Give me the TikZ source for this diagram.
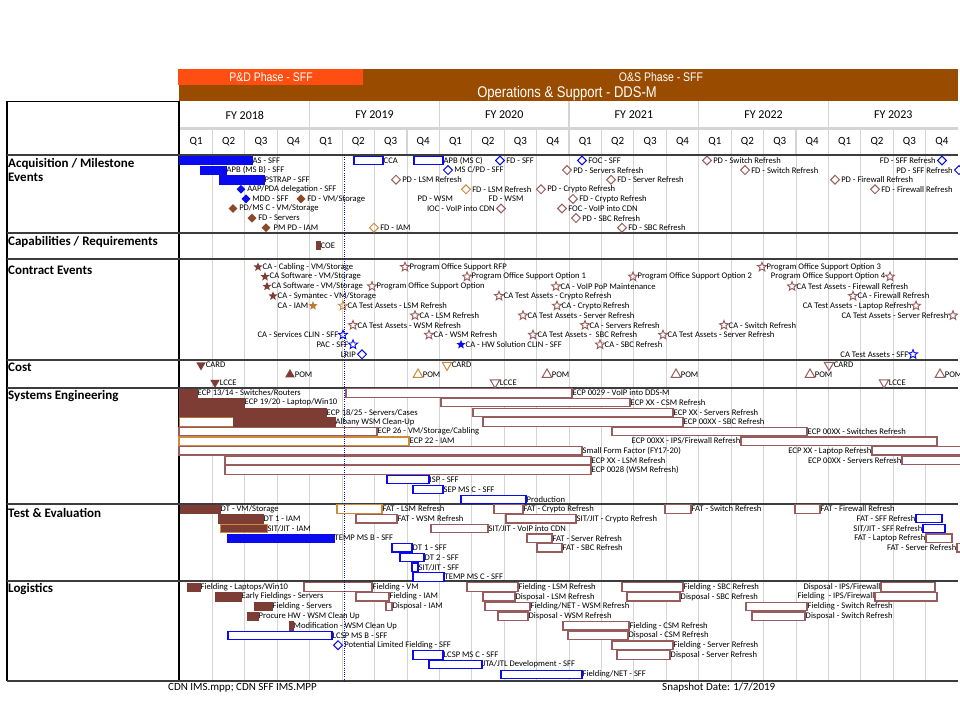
\documentclass[tikz,border=0pt]{standalone}
\usepackage{fontspec}
\setmainfont{Carlito}
\newfontfamily\hdrfont[FakeStretch=0.84]{Liberation Sans}
\usetikzlibrary{shapes.geometric}
\definecolor{cBlue}{RGB}{10,10,240}
\definecolor{cBrn}{RGB}{125,60,52}
\definecolor{cBrnD}{RGB}{140,72,40}
\definecolor{cRose}{RGB}{152,92,92}
\definecolor{cOrg}{RGB}{205,138,58}
\definecolor{cHOr}{RGB}{255,78,18}
\definecolor{cHBr}{RGB}{153,76,0}
\definecolor{cGrid}{RGB}{212,212,212}
\definecolor{cSep}{RGB}{60,60,60}
\newcount\itm
\newcommand\gbx[5]{\global\advance\itm by 1 \edef\nm{b\the\itm}%
  \draw[#1,fill=white] (#2,#4-4.2) rectangle (#3,#4+4.2);%
  \node[lab,anchor=west] (\nm) at (#3,#4) {#5};}
\newcommand\gbxf[5]{\global\advance\itm by 1 \edef\nm{b\the\itm}%
  \draw[#1] (#2,#4-4.2) rectangle (#3,#4+4.2);%
  \node[lab,anchor=west] (\nm) at (#3,#4) {#5};}
\newcommand\gbxl[5]{\global\advance\itm by 1 \edef\nm{b\the\itm}%
  \draw[#1,fill=white] (#2,#4-4.2) rectangle (#3,#4+4.2);%
  \node[lab,anchor=east] (\nm) at (#2,#4) {#5};}
\newcommand\gmk[4]{\global\advance\itm by 1 \edef\nm{m\the\itm}\edef\nt{t\the\itm}%
  \node[#1] (\nm) at (#2,#3) {};%
  \node[lab,anchor=west] (\nt) at (\nm.east) {#4};}
\newcommand\gmkl[4]{\global\advance\itm by 1 \edef\nm{m\the\itm}\edef\nt{t\the\itm}%
  \node[#1] (\nm) at (#2,#3) {};%
  \node[lab,anchor=east] (\nt) at (\nm.west) {#4};}
\newcommand\gtx[3]{\global\advance\itm by 1 \edef\nt{t\the\itm}%
  \node[lab,anchor=west] (\nt) at (#1,#2) {#3};}
\begin{document}
\begin{tikzpicture}[x=1pt,y=-1pt,
  lab/.style={font=\fontsize{8.6}{9}\selectfont, inner sep=0.7pt, outer sep=0pt},
  sec/.style={font=\bfseries\fontsize{13}{13.5}\selectfont, inner sep=0pt, anchor=west, align=left},
  grid/.style={draw=cGrid, line width=0.8pt},
  sepl/.style={draw=cSep, line width=1.8pt},
  bF/.style={fill=cBlue, draw=cBlue, line width=0.6pt},
  bO/.style={draw=cBlue, line width=1.1pt},
  brF/.style={fill=cBrn, draw=cBrn, line width=0.6pt},
  brFo/.style={fill=cBrn, draw=cOrg, line width=0.8pt},
  rO/.style={draw=cRose, line width=1.2pt},
  oO/.style={draw=cOrg, line width=1.2pt},
  mk/.style={inner sep=0pt, outer sep=0.8pt},
  dia/.style={mk, diamond, minimum size=9.5pt},
  st/.style={mk, star, star points=5, star point ratio=2.3, minimum size=9.5pt},
  tu/.style={mk, regular polygon, regular polygon sides=3, minimum size=11pt},
  td/.style={tu, shape border rotate=180},
  dB/.style={dia, fill=cBlue},
  dBo/.style={dia, draw=cBlue, line width=1pt, fill=white},
  dBr/.style={dia, fill=cBrnD},
  dRo/.style={dia, draw=cRose, line width=1pt},
  dOo/.style={dia, draw=cOrg, line width=1pt},
  sBr/.style={st, fill=cBrn},
  sOf/.style={st, fill=cOrg!75!cBrnD},
  sOo/.style={st, draw=cOrg, line width=0.9pt},
  sRo/.style={st, draw=cRose, line width=0.9pt},
  sBo/.style={st, draw=cBlue, line width=0.9pt},
  sBf/.style={st, fill=cBlue},
  tdBr/.style={td, fill=cBrn}, tuBr/.style={tu, fill=cBrn},
  tdOo/.style={td, draw=cOrg, line width=1pt}, tuOo/.style={tu, draw=cOrg, line width=1pt},
  tdRo/.style={td, draw=cRose, line width=1pt}, tuRo/.style={tu, draw=cRose, line width=1pt}]
\useasboundingbox[fill=white] (0,0) rectangle (960,720);
% ---------- header bars
\fill[cHBr] (179,69) rectangle (958,101);
\fill[cHOr] (178,69) rectangle (363,85);
\node[text=white, font=\hdrfont\fontsize{12.5}{13}\selectfont] (pd) at (271,77) {P\&D Phase - SFF};
\node[text=white, font=\hdrfont\fontsize{12.5}{13}\selectfont] (os) at (661,77) {O\&S Phase - SFF};
\node[text=white, font=\hdrfont\fontsize{15.5}{16}\selectfont] (ops) at (567,93) {Operations \& Support - DDS-M};
% ---------- header table
\draw[line width=1pt] (7,101.5) -- (179,101.5);
\draw[draw=cGrid, line width=2.5pt] (179,128.5) -- (958,128.5);
\foreach \i in {1,...,5} \draw[grid, line width=1.2pt] ({180+129.68*\i},101) -- ({180+129.68*\i},127);
\foreach \k in {1,...,23} \draw[grid, line width=1.2pt] ({180+32.42*\k},130) -- ({180+32.42*\k},154);
\foreach \yr [count=\i from 0] in {2018,...,2023}
  \node[font=\fontsize{12}{13}\selectfont] (fy\i) at ({180+129.68*\i+64.84},115) {FY \yr};
\foreach \k in {0,...,23}{
  \pgfmathtruncatemacro\qq{mod(\k,4)+1}
  \node[font=\fontsize{11}{12}\selectfont] (q\k) at ({180+32.42*\k+16.21},141.5) {Q\qq};}
% ---------- body grid
\foreach \k in {1,...,23} \draw[grid] ({180+32.42*\k},155) -- ({180+32.42*\k},681);
\draw[line width=1.3pt] (7,101) -- (7,681);
\draw[line width=1.3pt] (179,101) -- (179,681);
\foreach \yy in {155,233,259,360,388,504,581} \draw[sepl] (7,\yy) -- (958,\yy);
\draw[draw=cSep, line width=2.2pt] (7,681) -- (958,681);
% ---------- section labels
\node[sec, anchor=north west] (acq) at (8,158.5) {Acquisition / Milestone\\Events};
\node[sec] (cap) at (8,241.5) {Capabilities / Requirements};
\node[sec] (con) at (8,270.5) {Contract Events};
\node[sec] (cst) at (8,367.5) {Cost};
\node[sec] (sys) at (8,396.5) {Systems Engineering};
\node[sec] (tne) at (8,512.5) {Test \& Evaluation};
\node[sec] (log) at (8,589.5) {Logistics};
% ---------- Acquisition
\gbxf{bF}{179}{252}{160.5}{AS - SFF}
\gbxf{bF}{200}{226}{170.1}{APB (MS B) - SFF}
\gbxf{bF}{219}{264}{179.7}{PSTRAP - SFF}
\gmk{dB}{241}{189.3}{AAP/PDA delegation - SFF}
\gmk{dB}{246}{198.9}{MDD - SFF}
\gmk{dBr}{301}{198.9}{FD - VM/Storage}
\gmk{dBr}{233}{208.5}{PD/MS C - VM/Storage}
\gmk{dBr}{252}{218.1}{FD - Servers}
\gmk{dBr}{266}{227.7}{\,PM PD - IAM}
\gbx{bO}{354}{383}{160.5}{CCA}
\gbx{bO}{414}{443}{160.5}{APB (MS C)}
\gmk{dBo}{500}{160.5}{FD - SFF}
\gmk{dBo}{448}{170.1}{MS C/PD - SFF}
\gmk{dRo}{396}{179.7}{PD - LSM Refresh}
\gmk{dOo}{466}{189.3}{FD - LSM Refresh}
\gmk{dRo}{541}{189.3}{PD - Crypto Refresh}
\gtx{417}{198.9}{PD - WSM}
\gtx{488}{198.9}{FD - WSM}
\gmkl{dRo}{501}{208.5}{IOC - VoIP into CDN}
\gmk{dOo}{374}{227.7}{FD - IAM}
\gmk{dBo}{582}{160.5}{FOC - SFF}
\gmk{dRo}{567}{170.1}{PD - Servers Refresh}
\gmk{dRo}{611}{179.7}{FD - Server Refresh}
\gmk{dRo}{573}{198.9}{FD - Crypto Refresh}
\gmk{dRo}{562}{208.5}{FOC - VoIP into CDN}
\gmk{dRo}{576}{218.1}{PD - SBC Refresh}
\gmk{dRo}{622}{227.7}{FD - SBC Refresh}
\gmk{dRo}{707}{160.5}{PD - Switch Refresh}
\gmk{dRo}{745}{170.1}{FD - Switch Refresh}
\gmk{dRo}{835}{179.7}{PD - Firewall Refresh}
\gmk{dRo}{875}{189.3}{FD - Firewall Refresh}
\gmkl{dBo}{942}{160.5}{FD - SFF Refresh}
\gmkl{dBo}{959}{170.1}{PD - SFF Refresh}
% ---------- Capabilities
\gbxf{brF}{316}{320}{245.5}{COE}
% ---------- Contract events
\gmk{sBr}{258}{267}{CA - Cabling - VM/Storage}
\gmk{sBr}{265}{276.7}{CA Software - VM/Storage}
\gmk{sBr}{267}{286.4}{CA Software - VM/Storage}
\gmk{sRo}{372}{286.4}{Program Office Support Option}
\gmk{sBr}{273}{296}{CA - Symantec - VM/Storage}
\gmkl{sOf}{313}{305.8}{CA - IAM}
\gmk{sOo}{343}{305.8}{CA Test Assets - LSM Refresh}
\gmk{sRo}{405}{267}{Program Office Support RFP}
\gmk{sRo}{467}{276.7}{Program Office Support Option 1}
\gmk{sRo}{556}{286.4}{CA - VoIP PoP Maintenance}
\gmk{sRo}{499}{296}{CA Test Assets - Crypto Refresh}
\gmk{sRo}{557}{305.8}{CA - Crypto Refresh}
\gmk{sRo}{415}{315.5}{CA - LSM Refresh}
\gmk{sRo}{523}{315.5}{CA Test Assets - Server Refresh}
\gmk{sRo}{353}{325.2}{CA Test Assets - WSM Refresh}
\gmkl{sBo}{343}{334.9}{CA - Services CLIN - SFF}
\gmk{sRo}{429}{334.9}{CA - WSM Refresh}
\gmk{sRo}{533}{334.9}{CA Test Assets - \ SBC Refresh}
\gmkl{sBo}{353}{344.6}{PAC - SFF}
\gmk{sBf}{461}{344.6}{CA - HW Solution CLIN - SFF}
\gmkl{dBo}{362}{354.3}{LRIP}
\gmk{sRo}{633}{276.7}{Program Office Support Option 2}
\gmk{sRo}{762}{267}{Program Office Support Option 3}
\gmkl{sRo}{890}{276.7}{Program Office Support Option 4}
\gmk{sRo}{792}{286.4}{CA Test Assets - Firewall Refresh}
\gmk{sRo}{853}{296}{CA - Firewall Refresh}
\gmkl{sRo}{916}{305.8}{CA Test Assets - Laptop Refresh}
\gmkl{sRo}{953}{315.5}{CA Test Assets - Server Refresh}
\gmk{sRo}{585}{325.2}{CA - Servers Refresh}
\gmk{sRo}{724}{325.2}{CA - Switch Refresh}
\gmk{sRo}{663}{334.9}{CA Test Assets - Server Refresh}
\gmk{sRo}{600}{344.6}{CA - SBC Refresh}
\gmkl{sBo}{913}{354.3}{CA Test Assets - SFF}
% ---------- Cost
\gmk{tdBr}{201}{365}{CARD}
\gmk{tuBr}{290}{374.5}{POM}
\gmk{tdBr}{215}{382.5}{LCCE}
\gmk{tdOo}{447}{365}{CARD}
\gmk{tuOo}{418}{374.5}{POM}
\gmk{tdRo}{495}{382.5}{LCCE}
\gmk{tuRo}{547}{374.5}{POM}
\gmk{tuRo}{676}{374.5}{POM}
\gmk{tuRo}{810}{374.5}{POM}
\gmk{tdRo}{829}{365}{CARD}
\gmk{tdRo}{884}{382.5}{LCCE}
\gmk{tuRo}{940}{374.5}{POM}
% ---------- Systems engineering
\gbxf{brF}{179}{197}{393}{ECP 13/14 - Switches/Routers}
\gbx{rO}{346}{572}{393}{ECP 0029 - VoIP into DDS-M}
\gbxf{brF}{179}{244}{402.6}{ECP 19/20 - Laptop/Win10}
\gbx{rO}{441}{630}{402.6}{ECP XX - CSM Refresh}
\gbxf{brF}{179}{326}{412.3}{ECP 18/25 - Servers/Cases}
\gbx{rO}{473}{673}{412.3}{ECP XX - Servers Refresh}
\draw[draw=cOrg!70!cBrn, line width=0.8pt, fill=white] (179,417.7) rectangle (233,426.1);
\gbxf{brF}{233}{335}{421.9}{Albany WSM Clean-Up}
\gbx{rO}{483}{683}{421.9}{ECP 00XX - SBC Refresh}
\gbx{rO}{179}{377}{431.5}{ECP 26 - VM/Storage/Cabling}
\gbx{rO}{612}{807}{431.5}{ECP 00XX - Switches Refresh}
\gbx{oO}{179}{409}{441.1}{ECP 22 - IAM}
\gbxl{rO}{741}{937}{441.1}{ECP 00XX - IPS/Firewall Refresh}
\gbx{rO}{179}{582}{450.8}{Small Form Factor (FY17-20)}
\gbxl{rO}{872}{966}{450.8}{ECP XX - Laptop Refresh}
\gbx{rO}{225}{591}{460.4}{ECP XX - LSM Refresh}
\gbxl{rO}{902}{966}{460.4}{ECP 00XX - Servers Refresh}
\gbx{rO}{225}{591}{470}{ECP 0028 (WSM Refresh)}
\gbx{bO}{387}{429}{479.7}{ISP - SFF}
\gbx{bO}{413}{443}{489.3}{SEP MS C - SFF}
\gbx{bO}{461}{526}{499.3}{Production}
% ---------- Test & Evaluation
\gbxf{brF}{180}{220}{509}{DT - VM/Storage}
\gbx{oO}{337}{382}{509}{FAT - LSM Refresh}
\gbx{rO}{494}{523}{509}{FAT - Crypto Refresh}
\gbx{rO}{665}{691}{509}{FAT - Switch Refresh}
\gbx{rO}{795}{820}{509}{FAT - Firewall Refresh}
\gbxf{brF}{218}{263}{518.7}{DT 1 - IAM}
\gbx{rO}{356}{397}{518.7}{FAT - WSM Refresh}
\gbx{rO}{506}{576}{518.7}{SIT/JIT - Crypto Refresh}
\gbxl{bO}{916}{942}{518.7}{FAT - SFF Refresh}
\gbxf{brFo}{220}{267}{528.4}{SIT/JIT - IAM}
\gbx{rO}{431}{488}{528.4}{SIT/JIT - VoIP into CDN}
\gbxl{bO}{923}{945}{528.4}{SIT/JIT - SFF Refresh}
\gbxf{bF}{227}{334}{538.1}{TEMP MS B - SFF}
\gbx{rO}{527}{552}{538.1}{FAT - Server Refresh}
\gbxl{rO}{926}{952}{538.1}{FAT - Laptop Refresh}
\gbx{bO}{392}{412}{547.8}{DT 1 - SFF}
\gbx{rO}{537}{562}{547.8}{FAT - SBC Refresh}
\gbxl{rO}{957}{966}{547.8}{FAT - Server Refresh}
\gbx{bO}{400}{424}{557.5}{DT 2 - SFF}
\gbx{bO}{412}{418}{567.2}{SIT/JIT - SFF}
\gbx{bO}{413}{444}{576.9}{TEMP MS C - SFF}
% ---------- Logistics
\gbxf{brF}{187}{200}{587}{Fielding - Laptops/Win10}
\gbx{rO}{304}{372}{587}{Fielding - VM}
\gbx{rO}{467}{518}{587}{Fielding - LSM Refresh}
\gbx{rO}{622}{683}{587}{Fielding - SBC Refresh}
\gbxl{rO}{881}{935}{587}{Disposal - IPS/Firewall}
\gbxf{brF}{215}{241}{596.7}{Early Fieldings - Servers}
\gbx{rO}{356}{389}{596.7}{Fielding - IAM}
\gbx{rO}{483}{515}{596.7}{Disposal - LSM Refresh}
\gbx{rO}{627}{680}{596.7}{Disposal - SBC Refresh}
\gbxl{rO}{875}{937}{596.7}{Fielding \ - IPS/Firewall}
\gbxf{brF}{254}{272}{606.4}{Fielding - Servers}
\gbx{rO}{386}{392}{606.4}{Disposal - IAM}
\gbx{rO}{485}{530}{606.4}{Fielding/NET - WSM Refresh}
\gbx{rO}{746}{807}{606.4}{Fielding - Switch Refresh}
\gbxf{brF}{247}{258}{616.1}{Procure HW - WSM Clean Up}
\gbx{rO}{498}{528}{616.1}{Disposal - WSM Refresh}
\gbx{rO}{752}{805}{616.1}{Disposal - Switch Refresh}
\gbxf{brF}{289}{293}{625.8}{Modification - WSM Clean Up}
\gbx{rO}{563}{629}{625.8}{Fielding - CSM Refresh}
\gbx{bO}{228}{332}{635.5}{LCSP MS B - SFF}
\gbx{rO}{568}{628}{635.5}{Disposal - CSM Refresh}
\gmk{dBo}{338}{645.2}{Potential Limited Fielding - SFF}
\gbx{rO}{612}{673}{645.2}{Fielding - Server Refresh}
\gbx{bO}{413}{443}{654.9}{LCSP MS C - SFF}
\gbx{rO}{617}{670}{654.9}{Disposal - Server Refresh}
\gbx{bO}{429}{482}{664.6}{JTA/JTL Development - SFF}
\gbx{bO}{501}{582}{674.3}{Fielding/NET - SFF}
% ---------- status date line
\coordinate (sdTop) at (344,155);
\coordinate (sdBot) at (344,681);
\draw[cBlue!80!black, line width=0.9pt, dash pattern=on 1pt off 1.2pt] (sdTop) -- (sdBot);
% ---------- footer
\node[font=\fontsize{11}{12}\selectfont, anchor=west, inner sep=0pt] (f1) at (168,688) {CDN IMS.mpp; CDN SFF IMS.MPP};
\node[font=\fontsize{11}{12}\selectfont, anchor=west, inner sep=0pt] (f2) at (662,688) {Snapshot Date: 1/7/2019};
\end{tikzpicture}
\end{document}
